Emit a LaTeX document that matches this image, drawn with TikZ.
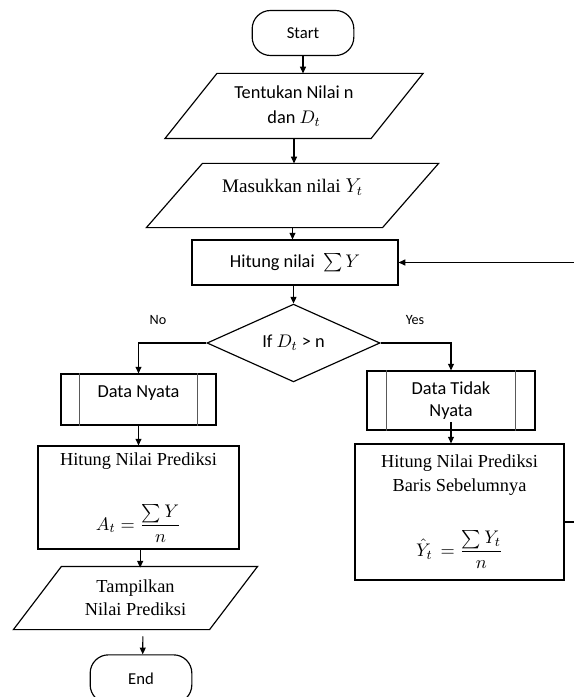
\documentclass[tikz,border=0pt]{standalone}
\usepackage{amsmath,amssymb}
\usepackage{fontspec}
\setmainfont{Liberation Serif}
\newfontfamily\calibri{Carlito}
\usetikzlibrary{arrows.meta,calc,shapes.geometric}

\begin{document}
\begin{tikzpicture}[x=0.6pt,y=-0.6pt,>={Triangle[length=4pt,width=3.6pt]},line width=0.7pt,
 term/.style={draw,rounded corners=11pt,minimum width=61pt,minimum height=27pt,
  font=\calibri\fontsize{10}{12}\selectfont},
 iobox/.style={inner sep=0pt,align=center},
 procbox/.style={draw,inner sep=0pt,align=center},
 subproc/.style={draw,inner sep=0pt,align=center,font=\calibri\fontsize{11}{13}\selectfont},
 decision/.style={draw,diamond,inner sep=0pt,minimum width=103.8pt,minimum height=45.6pt,
  font=\calibri\fontsize{11}{13}\selectfont},
 lbl/.style={font=\calibri\fontsize{8.5}{10}\selectfont},
 flow/.style={->}]
 \useasboundingbox (0,0) rectangle (573,697);
 \node[term] (start) at (303,33) {Start};
 \node[iobox,minimum width=123pt,minimum height=38.4pt,font=\calibri\fontsize{11}{13}\selectfont]
  (par1) at (294,106) {Tentukan Nilai n\\[2pt]dan $D_t$};
 \node[iobox,minimum width=141pt,minimum height=37.8pt,text depth=12pt,
  font=\fontsize{11.5}{13.5}\selectfont] (par2) at (292.5,195.5) {Masukkan nilai $Y_t$};
 \node[procbox,minimum width=123.6pt,minimum height=27pt,font=\calibri\fontsize{11}{13}\selectfont]
  (sum) at (295,262.5) {Hitung nilai \ $\sum Y$};
 \node[decision] (dec) at (293.5,343) {If $D_t$ > n};
 \node[subproc,minimum width=93pt,minimum height=30.6pt,text depth=10pt] (dn) at (138.5,399.5) {Data Nyata};
 \node[subproc,minimum width=100.8pt,minimum height=35.4pt] (dtn) at (451,400.5) {Data Tidak\\Nyata};
 \node[procbox,minimum width=120.6pt,minimum height=61.8pt,font=\fontsize{11}{13}\selectfont]
  (pred1) at (138.5,497.5) {Hitung Nilai Prediksi\\[20pt]$A_t=\dfrac{\sum Y}{n}$};
 \node[procbox,minimum width=125.4pt,minimum height=81.6pt,font=\fontsize{11}{13}\selectfont]
  (pred2) at (459.5,512) {Hitung Nilai Prediksi\\[1pt]Baris Sebelumnya\\[20pt]$\hat{Y}_t\,=\dfrac{\sum Y_t}{n}$};
 \node[iobox,minimum width=117pt,minimum height=37.2pt,font=\fontsize{11}{13}\selectfont]
  (par3) at (135.5,598) {Tampilkan\\[1pt]Nilai Prediksi};
 \node[term,minimum height=29pt] (end) at (141,679) {End};
 \foreach \n/\s in {par1/15.6pt,par2/16.8pt,par3/14.4pt}
  \draw ([xshift=\s]\n.north west) -- ([xshift=\s]\n.north east)
   -- ([xshift=-\s]\n.south east) -- ([xshift=-\s]\n.south west) -- cycle;
 \foreach \n/\d in {dn/11.4pt,dtn/12pt}
  \draw[gray!70!black,line width=1pt] ([xshift=\d]\n.north west) -- ([xshift=\d]\n.south west)
   ([xshift=-\d]\n.north east) -- ([xshift=-\d]\n.south east);
 \node[lbl] (no) at (158,320) {No};
 \node[lbl] (yes) at (415,320) {Yes};
 \draw[flow] (start) -- (start |- par1.north);
 \draw[flow] (par1.south) -- (par1.south |- par2.north);
 \draw[flow] (par2.south) -- (par2.south |- sum.north);
 \draw[flow] (dec.north |- sum.south) -- (dec.north);
 \draw[flow] (dec.west) -| (dn.north);
 \draw[flow] (dec.east) -| (dtn.north);
 \draw[flow] (dn) -- (dn |- pred1.north);
 \draw[flow] (dtn.south) ++(0,5pt) -- (dtn.south |- pred2.north);
 \draw[flow] (pred1.south) ++(1pt,0) -- ++(0,-10.8pt);
 \draw[flow,shorten <=4pt] (par3.south) ++(4.5pt,0) -- ($(end.north)+(1pt,0)$);
 \draw[flow] ([yshift=-6pt]pred2.east) -- ++(24pt,0) |- (sum.east);
\end{tikzpicture}
\end{document}
